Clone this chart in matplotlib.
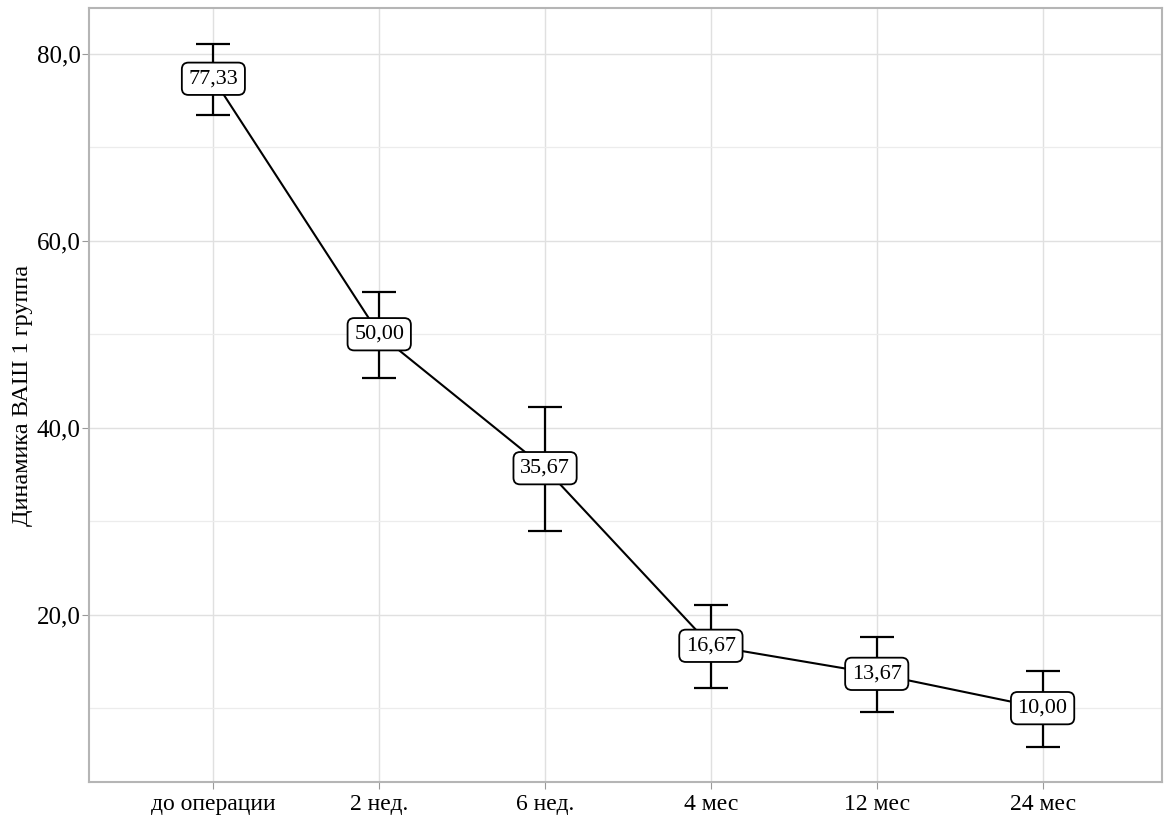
import matplotlib
matplotlib.use("Agg")
import matplotlib.pyplot as plt
from matplotlib.ticker import MultipleLocator, FuncFormatter

plt.rcParams['font.family'] = ['Liberation Serif', 'DejaVu Serif']

periods = ['до операции', '2 нед.', '6 нед.', '4 мес', '12 мес', '24 мес']
means = [77.33, 50.00, 35.67, 16.67, 13.67, 10.00]
upper = [81.07, 54.55, 42.25, 21.07, 17.65, 14.01]
lower = [73.48, 45.35, 28.98, 12.19, 9.63, 5.88]

x = list(range(len(periods)))
err_lo = [m - l for m, l in zip(means, lower)]
err_hi = [u - m for m, u in zip(means, upper)]

fig = plt.figure(figsize=(11.68, 8.19), dpi=100)
ax = fig.add_axes([89 / 1168, 1 - 782 / 819, (1162 - 89) / 1168, (782 - 8) / 819])

ax.errorbar(x, means, yerr=[err_lo, err_hi], fmt='none', ecolor='black',
            elinewidth=1.6, capsize=12, capthick=1.6, zorder=3)
ax.plot(x, means, color='black', linewidth=1.5, zorder=2)

for xi, m in zip(x, means):
    ax.text(xi, m, f'{m:.2f}'.replace('.', ','), ha='center', va='center',
            fontsize=16, zorder=4,
            bbox=dict(boxstyle='round,pad=0.3,rounding_size=0.3',
                      facecolor='white', edgecolor='black', linewidth=1.3))

ax.set_xlim(-0.75, 5.72)
ax.set_ylim(2.1, 84.9)
ax.set_xticks(x)
ax.set_xticklabels(periods, fontsize=17)
ax.yaxis.set_major_locator(MultipleLocator(20))
ax.yaxis.set_minor_locator(MultipleLocator(10))
ax.yaxis.set_major_formatter(FuncFormatter(lambda v, p: f'{v:.1f}'.replace('.', ',')))
ax.tick_params(axis='y', labelsize=18, color='#999999', length=5, pad=1)
ax.tick_params(axis='x', color='#999999', length=5)
ax.tick_params(axis='y', which='minor', length=0)

ax.grid(True, which='major', color='#e0e0e0', linewidth=1.0)
ax.grid(True, which='minor', axis='y', color='#ececec', linewidth=0.9)
ax.set_axisbelow(True)
for s in ax.spines.values():
    s.set_color('#b5b5b5')
    s.set_linewidth(1.5)

ax.set_ylabel('Динамика ВАШ 1 группа', fontsize=17.5)
ax.yaxis.set_label_coords(-0.052, 0.5)

fig.savefig('out.png', dpi=100)
